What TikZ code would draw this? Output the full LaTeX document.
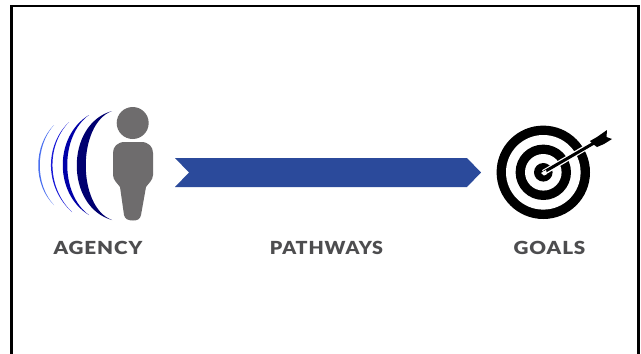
\documentclass[tikz,border=0pt]{standalone}
\usepackage{fontspec}
\setmainfont{Lato}[LetterSpace=5,BoldFont={Lato Black},BoldFeatures={FakeStretch=1.09}]
\definecolor{grayfig}{HTML}{6E6C6D}
\definecolor{labelgray}{HTML}{4D4D4F}
\definecolor{ribbon}{HTML}{2B4A9B}
\definecolor{wavea}{HTML}{000070}
\definecolor{waveb}{HTML}{0000A8}
\definecolor{wavec}{HTML}{1A1AD8}
\definecolor{waved}{HTML}{4A70F0}
\tikzset{
  lbl/.style={font=\fontsize{18}{20}\selectfont\bfseries, text=labelgray, inner sep=0pt, anchor=base},
  widelbl/.style={lbl, transform shape, xscale=1.05},
  frameline/.style={line width=2.6pt, black},
}
\begin{document}
\begin{tikzpicture}[x=1pt,y=-1pt]
\useasboundingbox (0,0) rectangle (641,354);
\fill[white] (0,0) rectangle (641,354);
% frame
\draw[frameline] (11.5,354) -- (11.5,6) -- (638.5,6) -- (638.5,354);
% waves
\fill[waved] (54,125) .. controls (33,146) and (33,185) .. (54,205) .. controls (35,185) and (35,146) .. (54,125) -- cycle;
\fill[wavec] (69,122) .. controls (44,146) and (45,188) .. (72,212) .. controls (47,188) and (46,146) .. (69,122) -- cycle;
\fill[waveb] (89,115) .. controls (54,136) and (54,194) .. (89,215) .. controls (60,194) and (60,136) .. (89,115) -- cycle;
\fill[wavea] (112,111) .. controls (65,124) and (65,207) .. (112,220) .. controls (77,207) and (77,124) .. (112,111) -- cycle;
% person
\fill[grayfig] (132.7,123) circle (16);
\fill[grayfig] (125,142) -- (141,142)
  .. controls (149,142) and (153,147) .. (153,153)
  -- (153,175) .. controls (153,180) and (148,184) .. (146,187)
  -- (141,215) .. controls (140,219) and (138,220.5) .. (133,220.5)
  .. controls (128,220.5) and (125,219) .. (124,215)
  -- (120,187) .. controls (118,184) and (113,180) .. (113,175)
  -- (113,153) .. controls (113,147) and (117,142) .. (125,142) -- cycle;
% ribbon
\fill[ribbon] (175,158) -- (467,158) -- (481,172.5) -- (467,187) -- (175,187) -- (189,172.5) -- cycle;
% target
\fill[black] (543.3,172.3) circle (46.7);
\fill[white] (543.3,172.3) circle (37.3);
\fill[black] (543.3,172.3) circle (27.7);
\fill[white] (543.3,172.3) circle (18.3);
\fill[black] (543.3,172.3) circle (9.3);
\draw[white, line width=5.5pt] (543.5,172.5) -- (592,144);
\draw[black, line width=3pt] (544,172) -- (594,143);
\fill[white] (541,173) -- (546,170) -- (547,174) -- (544,175.5) -- cycle;
\fill[black] (590,141) -- (597,137) -- (607,130) -- (606.5,137) -- (612,139) -- (604,144) -- (597,147) -- (593,144) -- cycle;
% labels
\node[widelbl] (agency) at (98,254) {AGENCY};
\node[lbl] (pathways) at (326.5,254) {PATHWAYS};
\node[widelbl] (goals) at (549.5,254) {GOALS};
\end{tikzpicture}
\end{document}
